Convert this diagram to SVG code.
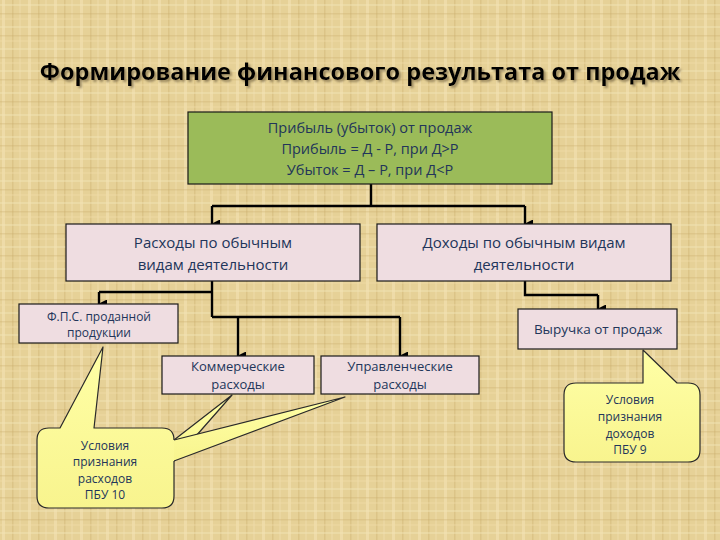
<svg xmlns="http://www.w3.org/2000/svg" width="720" height="540" viewBox="0 0 720 540">
<defs>
<pattern id="burlap" width="26" height="22" patternUnits="userSpaceOnUse">
<rect width="26" height="22" fill="#e6d197"/>
<rect x="2" y="0" width="3" height="22" fill="#f3e4b6" opacity="0.55"/>
<rect x="12" y="0" width="1.5" height="22" fill="#c9ab6a" opacity="0.35"/>
<rect x="19" y="0" width="2" height="22" fill="#f0dfad" opacity="0.4"/>
<rect x="0" y="4" width="26" height="2" fill="#f3e4b6" opacity="0.45"/>
<rect x="0" y="13" width="26" height="1.5" fill="#c9ab6a" opacity="0.3"/>
<rect x="0" y="18" width="26" height="2" fill="#efdca8" opacity="0.35"/>
</pattern>
<linearGradient id="yel" x1="0" y1="0" x2="0" y2="1">
<stop offset="0" stop-color="#ffffa6"/>
<stop offset="1" stop-color="#f8f48e"/>
</linearGradient>
<filter id="shadow" filterUnits="userSpaceOnUse" x="0" y="30" width="720" height="80">
<feGaussianBlur in="SourceAlpha" stdDeviation="1"/>
<feOffset dx="2" dy="2" result="b"/>
<feFlood flood-color="#7a6a48" flood-opacity="0.7"/>
<feComposite in2="b" operator="in"/>
<feMerge><feMergeNode/><feMergeNode in="SourceGraphic"/></feMerge>
</filter>
<marker id="arr" markerWidth="9" markerHeight="9" refX="4.5" refY="8" orient="auto-start-reverse" markerUnits="userSpaceOnUse" viewBox="0 0 9 9">
<path d="M0,0 L9,0 L4.5,9 Z" fill="#000"/>
</marker>
<style>
.box{stroke:#1a1a1a;stroke-width:1.2}
.pink{fill:#efdde1}
.green{fill:#9bbb59}
.callfill{fill:url(#yel)}
.callstroke{fill:none;stroke:#2a2a2a;stroke-width:1.2;stroke-linejoin:round}
.t{font-family:"Open Sans","Liberation Sans",sans-serif;fill:#22355a;text-anchor:middle}
.line{fill:none;stroke:#000;stroke-width:2.4}
.title{font-family:"Open Sans","Liberation Sans",sans-serif;font-weight:bold;font-size:23.5px;text-anchor:middle;fill:#000}
</style>
</defs>
<rect width="720" height="540" fill="url(#burlap)"/>

<g id="title" filter="url(#shadow)">
<text class="title" x="360" y="80">Формирование финансового результата от продаж</text>
</g>

<g id="connectors">
<path class="line" d="M371,184 V206 M212,206 H525"/>
<path class="line" d="M212,206 V224" marker-end="url(#arr)"/>
<path class="line" d="M525,206 V224" marker-end="url(#arr)"/>
<path class="line" d="M212,281 V317 M212,292 H99"/>
<path class="line" d="M99,292 V304" marker-end="url(#arr)"/>
<path class="line" d="M212,317 H400"/>
<path class="line" d="M238,317 V356" marker-end="url(#arr)"/>
<path class="line" d="M400,317 V356" marker-end="url(#arr)"/>
<path class="line" d="M525,281 V295 H598"/>
<path class="line" d="M598,295 V309" marker-end="url(#arr)"/>
</g>

<g id="profit">
<rect class="box green" x="188" y="112" width="364" height="72"/>
<text class="t" font-size="14.5" x="370" y="133">Прибыль (убыток) от продаж</text>
<text class="t" font-size="14.5" x="370" y="154">Прибыль = Д - Р, при Д&gt;Р</text>
<text class="t" font-size="14.5" x="370" y="175">Убыток = Д – Р, при Д&lt;Р</text>
</g>

<g id="expenses">
<rect class="box pink" x="66" y="224" width="294" height="57"/>
<text class="t" font-size="15" x="213" y="248">Расходы по обычным</text>
<text class="t" font-size="15" x="213" y="270">видам деятельности</text>
</g>

<g id="income">
<rect class="box pink" x="377" y="224" width="294" height="57"/>
<text class="t" font-size="15" x="524" y="248">Доходы по обычным видам</text>
<text class="t" font-size="15" x="524" y="270">деятельности</text>
</g>

<g id="fps">
<rect class="box pink" x="19" y="304" width="159" height="39"/>
<text class="t" font-size="12" x="99" y="321">Ф.П.С. проданной</text>
<text class="t" font-size="12" x="99" y="337">продукции</text>
</g>

<g id="revenue">
<rect class="box pink" x="518" y="309" width="159" height="40"/>
<text class="t" font-size="13.5" x="598" y="334">Выручка от продаж</text>
</g>

<g id="commercial">
<rect class="box pink" x="162" y="356" width="152" height="38"/>
<text class="t" font-size="13" x="238" y="371">Коммерческие</text>
<text class="t" font-size="13" x="238" y="389">расходы</text>
</g>

<g id="admin">
<rect class="box pink" x="321" y="356" width="158" height="38"/>
<text class="t" font-size="13" x="400" y="371">Управленческие</text>
<text class="t" font-size="13" x="400" y="389">расходы</text>
</g>

<g id="callout-expenses">
<path class="callfill" d="M174,440 L232,395 L174,461 Z"/>
<path class="callstroke" d="M174,440 L232,395 L174,461"/>
<path class="callfill" d="M174,440 L345,397 L174,461 Z"/>
<path class="callstroke" d="M174,440 L345,397 L174,461"/>
<path class="callfill" d="M37,440 Q37,428 49,428 H60 L103,347 L94,428 H162 Q174,428 174,440 V496 Q174,508 162,508 H49 Q37,508 37,496 Z"/>
<path class="callstroke" d="M174,461 V496 Q174,508 162,508 H49 Q37,508 37,496 V440 Q37,428 49,428 H60 L103,347 L94,428 H162 Q174,428 174,440"/>
<text class="t" font-size="12" x="105" y="450">Условия</text>
<text class="t" font-size="12" x="105" y="466">признания</text>
<text class="t" font-size="12" x="105" y="483">расходов</text>
<text class="t" font-size="12" x="105" y="499">ПБУ 10</text>
</g>

<g id="callout-income">
<path class="callfill" d="M564,395 Q564,383 576,383 H643 V350 L677,383 H688 Q700,383 700,395 V450 Q700,462 688,462 H576 Q564,462 564,450 Z"/>
<path class="callstroke" d="M564,395 Q564,383 576,383 H643 V350 L677,383 H688 Q700,383 700,395 V450 Q700,462 688,462 H576 Q564,462 564,450 Z"/>
<text class="t" font-size="12" x="630" y="404">Условия</text>
<text class="t" font-size="12" x="630" y="421">признания</text>
<text class="t" font-size="12" x="630" y="438">доходов</text>
<text class="t" font-size="12" x="630" y="454">ПБУ 9</text>
</g>
</svg>
